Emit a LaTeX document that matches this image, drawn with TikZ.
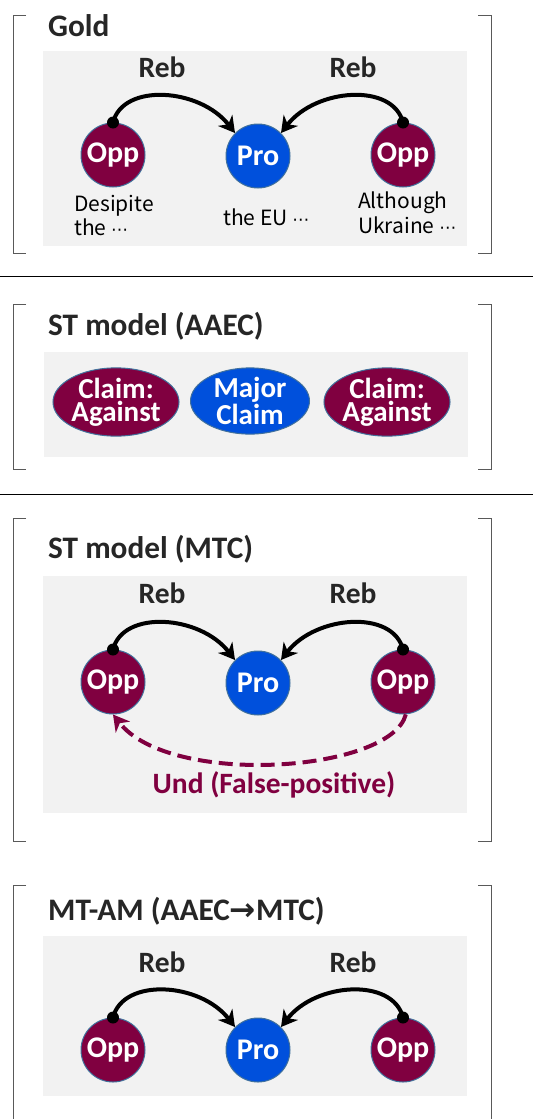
\documentclass[tikz,border=0pt]{standalone}
\usepackage{fontspec}
\setmainfont{Carlito}
\newfontfamily\jpfont{Noto Sans CJK JP}
\newfontfamily\arrowfont{DejaVu Sans}
\newcommand{\mdots}{{\arrowfont\fontsize{17}{20}\selectfont ⋯}}
\usetikzlibrary{arrows.meta,shapes.geometric}
\definecolor{opp}{RGB}{128,0,64}
\definecolor{pro}{RGB}{0,80,220}
\definecolor{rim}{RGB}{65,113,156}
\definecolor{panel}{RGB}{242,242,242}
\definecolor{ink}{RGB}{38,38,38}
\definecolor{brk}{RGB}{89,89,89}
\begin{document}
\begin{tikzpicture}[x=1pt,y=-1pt,
  argnode/.style={circle,minimum size=64pt,inner sep=0pt,draw=rim,line width=1pt,text=white,font=\bfseries\fontsize{30}{32}\selectfont},
  oppnode/.style={argnode,fill=opp},
  pronode/.style={argnode,fill=pro},
  ellnode/.style={ellipse,minimum height=66pt,inner sep=0pt,draw=rim,line width=1pt,text=white,align=center,font=\bfseries\fontsize{29}{23}\selectfont},
  title/.style={anchor=base west,inner sep=0pt,text=ink,font=\bfseries\fontsize{31.3}{33}\selectfont},
  reblabel/.style={anchor=base,inner sep=0pt,text=ink,font=\bfseries\fontsize{29.5}{31}\selectfont},
  snippet/.style={anchor=base west,inner sep=0pt,text=black,font=\jpfont\fontsize{21}{24}\selectfont},
  reb/.style={line width=4pt,draw=black,-{Stealth[length=16pt,width=18pt,inset=5pt]}},
  und/.style={line width=4pt,draw=opp,dash pattern=on 14pt off 7pt,-{Stealth[length=16pt,width=18pt,inset=5pt]}},
  bracket/.style={draw=brk,line width=1pt},
  sep/.style={draw=black,line width=1pt}
]
\useasboundingbox (0,0) rectangle (533,1119);
\fill[white] (0,0) rectangle (533,1119);

% ---------- Panel 1: Gold ----------
\fill[panel] (43,51) rectangle (467,246);
\draw[bracket] (26,15) -- (13,15) -- (13,253) -- (26,253);
\draw[bracket] (478,15) -- (491,15) -- (491,253) -- (478,253);
\node[title] (t1) at (48,36) {Gold};
\node[oppnode] (o1L) at (113,155) {Opp};
\node[pronode] (p1) at (258,156) {Pro};
\node[oppnode] (o1R) at (403,155) {Opp};
\node[reblabel] (r1L) at (162,77) {Reb};
\node[reblabel] (r1R) at (353,77) {Reb};
\draw[reb] (o1L.north) .. controls +(10,-40) and +(-35,-45) .. (p1.135);
\draw[reb] (o1R.north) .. controls +(-10,-40) and +(35,-45) .. (p1.45);
\fill (o1L.north) circle (6pt);
\fill (o1R.north) circle (6pt);
\node[snippet] (s1a) at (74,211) {Desipite};
\node[snippet] (s1b) at (74,235) {the \mdots};
\node[snippet] (s2) at (223,225) {the EU \mdots};
\node[snippet] (s3a) at (358,208) {Although};
\node[snippet] (s3b) at (358,233) {Ukraine \mdots};
\draw[sep] (0,276) -- (533,276);

% ---------- Panel 2: ST model (AAEC) ----------
\fill[panel] (44,352) rectangle (468,457);
\draw[bracket] (26,304) -- (13,304) -- (13,469) -- (26,469);
\draw[bracket] (478,304) -- (491,304) -- (491,469) -- (478,469);
\node[title] (t2) at (48,335) {ST model (AAEC)};
\node[ellnode,fill=opp,minimum width=110pt] (c1) at (116,402) {Claim:\\Against};
\node[ellnode,fill=pro,minimum width=119pt] (mc) at (250,401) {Major\\Claim};
\node[ellnode,fill=opp,minimum width=109pt] (c2) at (387,402) {Claim:\\Against};
\draw[sep] (0,494) -- (533,494);

% ---------- Panel 3: ST model (MTC) ----------
\fill[panel] (43,576) rectangle (467,813);
\draw[bracket] (26,518) -- (13,518) -- (13,841) -- (26,841);
\draw[bracket] (478,518) -- (491,518) -- (491,841) -- (478,841);
\node[title] (t3) at (48,558) {ST model (MTC)};
\node[oppnode] (o3L) at (113,682) {Opp};
\node[pronode] (p3) at (258,683) {Pro};
\node[oppnode] (o3R) at (403,682) {Opp};
\node[reblabel] (r3L) at (162,603) {Reb};
\node[reblabel] (r3R) at (353,603) {Reb};
\draw[reb] (o3L.north) .. controls +(10,-40) and +(-35,-45) .. (p3.135);
\draw[reb] (o3R.north) .. controls +(-10,-40) and +(35,-45) .. (p3.45);
\fill (o3L.north) circle (6pt);
\fill (o3R.north) circle (6pt);
\draw[und] (o3R.-85) .. controls +(-15,58) and +(57,73) .. (o3L.-90);
\node[reblabel,text=opp] (u3) at (274,793) {Und (False-positive)};

% ---------- Panel 4: MT-AM ----------
\fill[panel] (43,936) rectangle (467,1096);
\draw[bracket] (26,885) -- (13,885) -- (13,1125);
\draw[bracket] (478,885) -- (491,885) -- (491,1125);
\node[title] (t4) at (48,920) {MT-AM (AAEC{\arrowfont\bfseries →}MTC)};
\node[oppnode] (o4L) at (113,1050) {Opp};
\node[pronode] (p4) at (258,1050) {Pro};
\node[oppnode] (o4R) at (403,1050) {Opp};
\node[reblabel] (r4L) at (162,972) {Reb};
\node[reblabel] (r4R) at (353,972) {Reb};
\draw[reb] (o4L.north) .. controls +(10,-40) and +(-35,-45) .. (p4.135);
\draw[reb] (o4R.north) .. controls +(-10,-40) and +(35,-45) .. (p4.45);
\fill (o4L.north) circle (6pt);
\fill (o4R.north) circle (6pt);
\end{tikzpicture}
\end{document}
